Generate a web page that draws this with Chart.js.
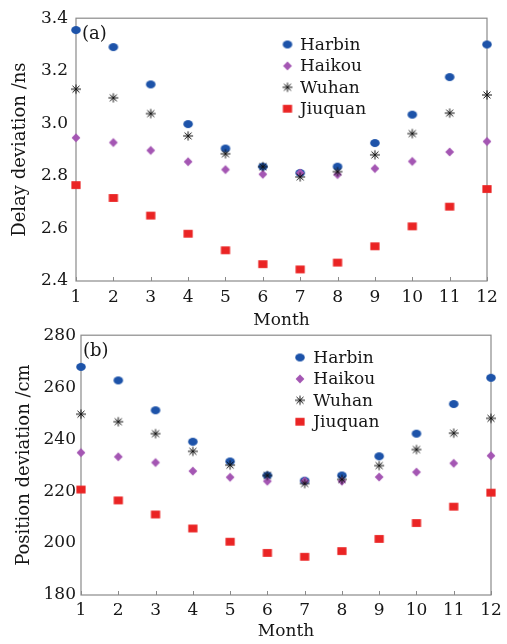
<!DOCTYPE html>
<html>
<head>
<meta charset="utf-8">
<script src="https://cdn.jsdelivr.net/npm/chart.js@4.4.1/dist/chart.umd.min.js"></script>
<style>
  html, body { margin: 0; padding: 0; background: #fff; }
  #wrap { position: relative; width: 507px; height: 644px; overflow: hidden; background: #fff; }
  #wrap canvas { position: absolute; left: 0; }
</style>
</head>
<body>
<div id="wrap">
  <canvas id="chartA" width="507" height="335" style="top:0;width:507px;height:335px"></canvas>
  <canvas id="chartB" width="507" height="324" style="top:320px;width:507px;height:324px"></canvas>
</div>
<script>
// Months on the horizontal axis
const months = [1, 2, 3, 4, 5, 6, 7, 8, 9, 10, 11, 12];
const cities = ['Harbin', 'Haikou', 'Wuhan', 'Jiuquan'];

// (a) Delay deviation, ns
const delayHarbin  = [3.355, 3.290, 3.148, 2.997, 2.904, 2.835, 2.811, 2.835, 2.925, 3.033, 3.176, 3.300];
const delayHaikou  = [2.945, 2.927, 2.897, 2.854, 2.824, 2.806, 2.811, 2.805, 2.828, 2.855, 2.891, 2.931];
const delayWuhan   = [3.130, 3.097, 3.037, 2.952, 2.884, 2.835, 2.796, 2.816, 2.880, 2.961, 3.039, 3.108];
const delayJiuquan = [2.765, 2.716, 2.649, 2.580, 2.517, 2.464, 2.444, 2.470, 2.532, 2.608, 2.683, 2.750];
const delayTicks   = [2.4, 2.6, 2.8, 3.0, 3.2, 3.4];

// (b) Position deviation, cm
const posHarbin  = [267.8, 262.6, 251.1, 239.0, 231.4, 226.0, 224.0, 226.0, 233.4, 242.1, 253.5, 263.6];
const posHaikou  = [234.8, 233.2, 231.0, 227.7, 225.3, 223.8, 223.9, 223.8, 225.4, 227.3, 230.7, 233.6];
const posWuhan   = [249.6, 246.7, 242.1, 235.3, 230.0, 226.0, 222.9, 224.5, 229.8, 236.0, 242.3, 248.0];
const posJiuquan = [220.6, 216.4, 211.0, 205.6, 200.5, 196.2, 194.7, 196.9, 201.6, 207.7, 214.0, 219.4];
const posTicks   = [180, 200, 220, 240, 260, 280];

const SERIF = "'DejaVu Serif', 'Liberation Serif', serif";
const TEXT = '#161616';
const FRAME = '#8a8a8a';

// Marker glyphs rendered once into small canvases
function glyph(draw) {
  const c = document.createElement('canvas');
  c.width = 14; c.height = 14;
  const g = c.getContext('2d');
  g.translate(7, 7);
  draw(g);
  return c;
}
const markers = {
  Harbin: glyph(g => {
    g.fillStyle = '#1d53a9';
    g.beginPath(); g.ellipse(0, 0, 4.8, 4.0, 0, 0, Math.PI * 2); g.fill();
  }),
  Haikou: glyph(g => {
    g.fillStyle = '#a456b3';
    g.beginPath(); g.moveTo(0, -4.6); g.lineTo(4.4, 0); g.lineTo(0, 4.6); g.lineTo(-4.4, 0); g.closePath(); g.fill();
  }),
  Wuhan: glyph(g => {
    g.strokeStyle = '#111'; g.lineWidth = 1;
    g.beginPath();
    g.moveTo(-5, 0); g.lineTo(5, 0);
    g.moveTo(0, -4.6); g.lineTo(0, 4.6);
    g.moveTo(-3.5, -3.3); g.lineTo(3.5, 3.3);
    g.moveTo(-3.5, 3.3); g.lineTo(3.5, -3.3);
    g.stroke();
  }),
  Jiuquan: glyph(g => {
    g.fillStyle = '#ea2424';
    g.fillRect(-4.6, -3.9, 9.2, 7.8);
  })
};
// Drawing order: asterisks on top, circles at the bottom
const stackOrder = { Harbin: 4, Haikou: 3, Wuhan: 1, Jiuquan: 2 };

function series(values) {
  return months.map((m, i) => ({ x: m, y: values[i] }));
}
function datasets(valueLists) {
  return cities.map((name, i) => ({
    label: name,
    data: series(valueLists[i]),
    pointStyle: markers[name],
    pointRadius: 5,
    pointHoverRadius: 5,
    showLine: false,
    order: stackOrder[name],
    clip: false
  }));
}

// Frame, inward month ticks, panel tag and legend
const decorPlugin = {
  id: 'decor',
  beforeDatasetsDraw(chart) {
    const { ctx, chartArea: a, scales } = chart;
    ctx.save();
    ctx.strokeStyle = FRAME;
    ctx.lineWidth = 1.2;
    ctx.strokeRect(a.left, a.top, a.right - a.left, a.bottom - a.top);
    ctx.lineWidth = 1;
    ctx.beginPath();
    months.forEach(m => {
      const x = Math.round(scales.x.getPixelForValue(m)) + 0.5;
      ctx.moveTo(x, a.bottom);
      ctx.lineTo(x, a.bottom - 4);
    });
    ctx.stroke();
    ctx.restore();
  },
  afterDraw(chart, args, opts) {
    const { ctx, chartArea: a } = chart;
    ctx.save();
    ctx.fillStyle = TEXT;
    ctx.textAlign = 'left';
    ctx.textBaseline = 'middle';
    ctx.font = '18px ' + SERIF;
    ctx.fillText(opts.tag, a.left + opts.tagX, a.top + 16);
    ctx.font = '17px ' + SERIF;
    chart.data.datasets.forEach((ds, i) => {
      const y = a.top + opts.legendY + i * 21.4;
      const mx = a.left + opts.legendX;
      const img = ds.pointStyle;
      ctx.drawImage(img, mx - img.width / 2, y - img.height / 2);
      ctx.fillText(ds.label, mx + opts.legendGap, y + 1);
    });
    ctx.restore();
  }
};

function buildChart(id, cfg) {
  const tickFont = { family: SERIF, size: 17 };
  return new Chart(document.getElementById(id), {
    type: 'scatter',
    data: { datasets: datasets(cfg.values) },
    plugins: [decorPlugin],
    options: {
      responsive: false,
      animation: false,
      devicePixelRatio: 1,
      layout: { padding: cfg.padding },
      events: [],
      plugins: {
        legend: { display: false },
        tooltip: { enabled: false },
        decor: cfg.decor
      },
      scales: {
        x: {
          type: 'linear',
          min: 1, max: 12,
          afterBuildTicks: s => { s.ticks = months.map(v => ({ value: v })); },
          afterFit: s => { s.height = cfg.xHeight; },
          grid: { display: false, drawTicks: false },
          border: { display: false },
          ticks: { font: tickFont, color: TEXT, padding: cfg.xTickPad, maxRotation: 0, autoSkip: false },
          title: { display: true, text: 'Month', color: TEXT, font: { family: SERIF, size: 17 }, padding: { top: 0, bottom: cfg.xTitlePad } }
        },
        y: {
          type: 'linear',
          min: cfg.yTicks[0], max: cfg.yTicks[cfg.yTicks.length - 1],
          afterBuildTicks: s => { s.ticks = cfg.yTicks.map(v => ({ value: v })); },
          afterFit: s => { s.width = cfg.yWidth; },
          grid: { display: false, drawTicks: false },
          border: { display: false },
          ticks: { font: tickFont, color: TEXT, padding: cfg.yTickPad, callback: cfg.fmt },
          title: { display: true, text: cfg.yTitle, color: TEXT, font: { family: SERIF, size: 18 }, padding: { top: cfg.yTitlePad, bottom: 0 } }
        }
      }
    }
  });
}

buildChart('chartA', {
  values: [delayHarbin, delayHaikou, delayWuhan, delayJiuquan],
  yTicks: delayTicks,
  fmt: v => Number(v).toFixed(1),
  yTitle: 'Delay deviation /ns',
  padding: { left: 0, right: 20, top: 16, bottom: 0 },
  yWidth: 76, xHeight: 54,
  xTickPad: 6, yTickPad: 8,
  xTitlePad: 4, yTitlePad: 10,
  decor: { tag: '(a)', tagX: 6, legendX: 211.5, legendY: 26.3, legendGap: 12.5 }
});

buildChart('chartB', {
  values: [posHarbin, posHaikou, posWuhan, posJiuquan],
  yTicks: posTicks,
  fmt: v => String(v),
  yTitle: 'Position deviation /cm',
  padding: { left: 0, right: 16, top: 11, bottom: 0 },
  yWidth: 81, xHeight: 49,
  xTickPad: 5, yTickPad: 5,
  xTitlePad: 2, yTitlePad: 14,
  decor: { tag: '(b)', tagX: 2, legendX: 219, legendY: 22.3, legendGap: 13.3 }
});
</script>
</body>
</html>
